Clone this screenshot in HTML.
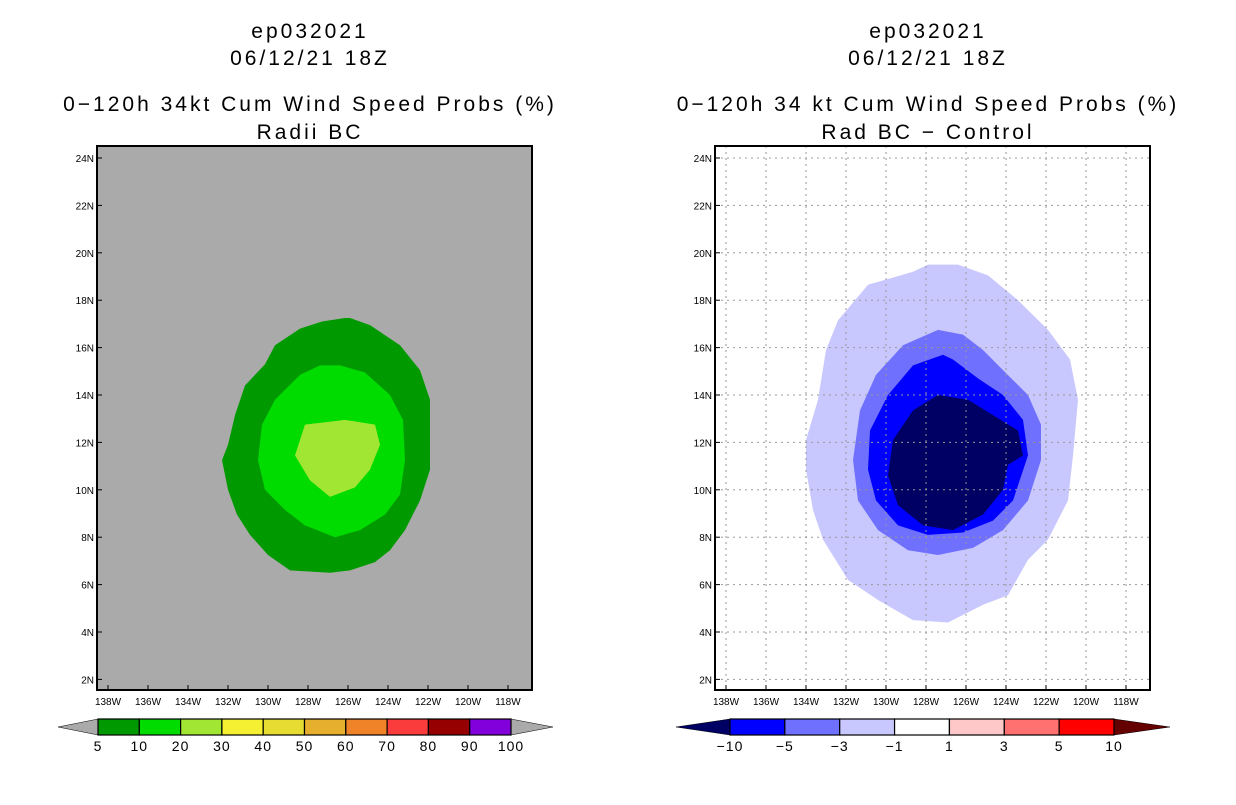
<!DOCTYPE html>
<html><head><meta charset="utf-8"><style>
body{margin:0;background:#fff;width:1236px;height:800px;overflow:hidden}
svg text{font-family:"Liberation Sans",sans-serif;fill:#000}
</style></head><body>
<svg id="s" width="1236" height="800" xmlns="http://www.w3.org/2000/svg"></svg>
<script>
// ---- data (lon in degrees east, negative = W; lat degrees N) ----
const lonTicks=[-138,-136,-134,-132,-130,-128,-126,-124,-122,-120,-118];
const latTicks=[2,4,6,8,10,12,14,16,18,20,22,24];
const leftLevels=["5","10","20","30","40","50","60","70","80","90","100"];
const leftColors=["#009900","#00dc00","#a0e632","#f5f032","#e6dc32","#e6af2d","#f08228","#fa3c3c","#960000","#8200dc"];
const rightLevels=["-10","-5","-3","-1","1","3","5","10"];
const rightColors=["#0000ff","#7070ff","#c8c8ff","#ffffff","#ffc8c8","#ff7070","#ff0000"];
const g5Lon=[-126.15,-127.3,-128.4,-129.65,-130.15,-131.15,-131.65,-132,-132.3,-132,-131.55,-130.9,-130,-128.9,-126.9,-125.9,-124.65,-123.9,-123.15,-122.4,-121.9,-121.9,-122.4,-123.4,-124.9,-125.9];
const g5Lat=[17.25,17.1,16.8,16.1,15.3,14.4,13.15,11.9,11.25,10,8.95,8.1,7.25,6.6,6.5,6.6,6.95,7.45,8.3,9.55,10.85,13.8,15.05,16.1,16.95,17.25];
const g10Lon=[-127.4,-128.4,-129.65,-130.3,-130.5,-130.15,-129.15,-128.15,-126.65,-125.4,-124.15,-123.4,-123.15,-123.25,-123.9,-125.15,-126.4];
const g10Lat=[15.25,14.85,13.8,12.75,11.25,10,9.15,8.5,8,8.3,8.95,9.8,11.25,12.95,14,14.95,15.25];
const g20Lon=[-128.15,-128.65,-127.9,-126.9,-125.65,-124.9,-124.4,-124.65,-126.15];
const g20Lat=[12.75,11.45,10.4,9.7,10.1,10.85,11.9,12.75,12.95];
const d1Lon=[-128.65,-130.9,-132.4,-133,-133.4,-134,-134,-133.65,-133.15,-131.9,-130.4,-128.65,-126.9,-125.15,-123.9,-122.9,-121.9,-120.9,-120.65,-120.4,-120.8,-121.9,-123.4,-124.9,-126.4,-127.9];
const d1Lat=[19.2,18.65,17.15,15.9,13.8,12.1,10.85,9.15,7.9,6.2,5.35,4.5,4.4,5.15,5.55,7.05,7.9,9.55,11.45,13.8,15.5,16.75,18,19.05,19.5,19.5];
const d3Lon=[-127.4,-129.15,-130.5,-131.3,-131.65,-131.4,-130.4,-128.9,-127.4,-125.65,-124.15,-122.9,-122.25,-122.25,-122.9,-124.15,-125.15,-126.15];
const d3Lat=[16.75,16.1,14.85,13.35,11.25,9.55,8.3,7.45,7.25,7.55,8.3,9.55,11.25,12.75,14,15.05,15.9,16.55];
const d5Lon=[-127.15,-128.65,-129.9,-130.8,-130.9,-130.5,-129.4,-127.9,-126.15,-124.65,-123.65,-122.9,-123.15,-124.15,-125.4,-126.65];
const d5Lat=[15.7,15.25,14,12.5,10.85,9.55,8.5,8.1,8.2,8.7,9.55,11.45,12.95,14,14.7,15.5];
const d10Lon=[-127.4,-128.65,-129.65,-129.9,-129.4,-128.15,-126.65,-125.15,-124.15,-123.9,-123.15,-123.4,-124.65,-125.9];
const d10Lat=[14,13.35,12.1,10.6,9.35,8.5,8.3,8.95,10,11.05,11.45,12.5,13.15,13.8];

const NS="http://www.w3.org/2000/svg";
const s=document.getElementById('s');
function el(t,a,p){const e=document.createElementNS(NS,t);for(const k in a)e.setAttribute(k,a[k]);(p||s).appendChild(e);return e;}
function txt(x,y,str,size,anchor,ls){const t=el('text',{x:x,y:y,'font-size':size,'text-anchor':anchor||'middle'});if(ls)t.setAttribute('letter-spacing',ls);t.textContent=str;return t;}

function panel(ox,name,titles,gray){
  const L=ox+97,R=ox+532,T=146,B=690;
  const xs=lon=>ox+108+(lon+138)*20;
  const ys=lat=>158+(24-lat)*23.7;
  const g=el('g',{});
  
  
  const cx=ox+310;
  titles.forEach((t,i)=>{const e=txt(cx,[38,65,111,139][i],t,21,'middle',3);g.appendChild(e);
    
    });
  el('rect',{x:L,y:T,width:R-L,height:B-T,fill:gray?'#aaaaaa':'#fff'},g);
  const poly=(lo,la,c,n)=>{const p=el('polygon',{points:lo.map((v,i)=>xs(v)+','+ys(la[i])).join(' '),fill:c,'stroke-linejoin':'round'},g);
    };
  return {g,xs,ys,L,R,T,B,poly};
}
function finish(P,grid){
  const {g,xs,ys,L,R,T,B}=P;
  if(grid){lonTicks.forEach(v=>el('line',{x1:xs(v),x2:xs(v),y1:T,y2:B,stroke:'#999','stroke-dasharray':'2,4'},g));
    latTicks.forEach(v=>el('line',{x1:L,x2:R,y1:ys(v),y2:ys(v),stroke:'#999','stroke-dasharray':'2,4'},g));}
  el('rect',{x:L,y:T,width:R-L,height:B-T,fill:'none',stroke:'#000','stroke-width':2},g);
  lonTicks.forEach(v=>{el('line',{x1:xs(v),x2:xs(v),y1:B,y2:B-5,stroke:'#000'},g);
    const t=txt(xs(v),705,(-v)+'W',10);g.appendChild(t);
    });
  latTicks.forEach(v=>{el('line',{x1:L,x2:L+5,y1:ys(v),y2:ys(v),stroke:'#000'},g);
    const t=txt(L-3,ys(v)+4,v+'N',10,'end');g.appendChild(t);
    });
}
function colorbar(x0,x1,tl,tr,cl,cr,cols,labs,name){
  const g=el('g',{});
  
  
  const y0=719,y1=735,ym=727,w=(x1-x0)/cols.length;
  el('polygon',{points:`${tl},${ym} ${x0},${y0} ${x0},${y1}`,fill:cl,stroke:'#000','stroke-width':0.5},g);
  el('polygon',{points:`${tr},${ym} ${x1},${y0} ${x1},${y1}`,fill:cr,stroke:'#000','stroke-width':0.5},g);
  cols.forEach((c,i)=>el('rect',{x:x0+i*w,y:y0,width:w,height:y1-y0,fill:c,stroke:'#000','stroke-width':1.2},g));
  labs.forEach((l,i)=>{const t=txt(x0+i*w,751,l.replace('-','\u2212'),14,'middle',1);g.appendChild(t);
    });
}
// left
const P1=panel(0,'left-map-panel',['ep032021','06/12/21 18Z','0\u2212120h 34kt Cum Wind Speed Probs (%)','Radii BC'],true);
P1.poly(g5Lon,g5Lat,leftColors[0],'contour-5-10');
P1.poly(g10Lon,g10Lat,leftColors[1],'contour-10-20');
P1.poly(g20Lon,g20Lat,leftColors[2],'contour-20-30');
finish(P1,false);
colorbar(98,511,58,553,'#aaaaaa','#aaaaaa',leftColors,leftLevels,'left-colorbar');
// right
const P2=panel(618,'right-map-panel',['ep032021','06/12/21 18Z','0\u2212120h 34 kt Cum Wind Speed Probs (%)','Rad BC \u2212 Control'],false);
P2.poly(d1Lon,d1Lat,'#c8c8ff','contour-neg1-neg3');
P2.poly(d3Lon,d3Lat,'#7070ff','contour-neg3-neg5');
P2.poly(d5Lon,d5Lat,'#0000ff','contour-neg5-neg10');
P2.poly(d10Lon,d10Lat,'#000064','contour-below-neg10');
finish(P2,true);
colorbar(730,1114,676,1170,'#000064','#640000',rightColors,rightLevels,'right-colorbar');
</script>
</body></html>
